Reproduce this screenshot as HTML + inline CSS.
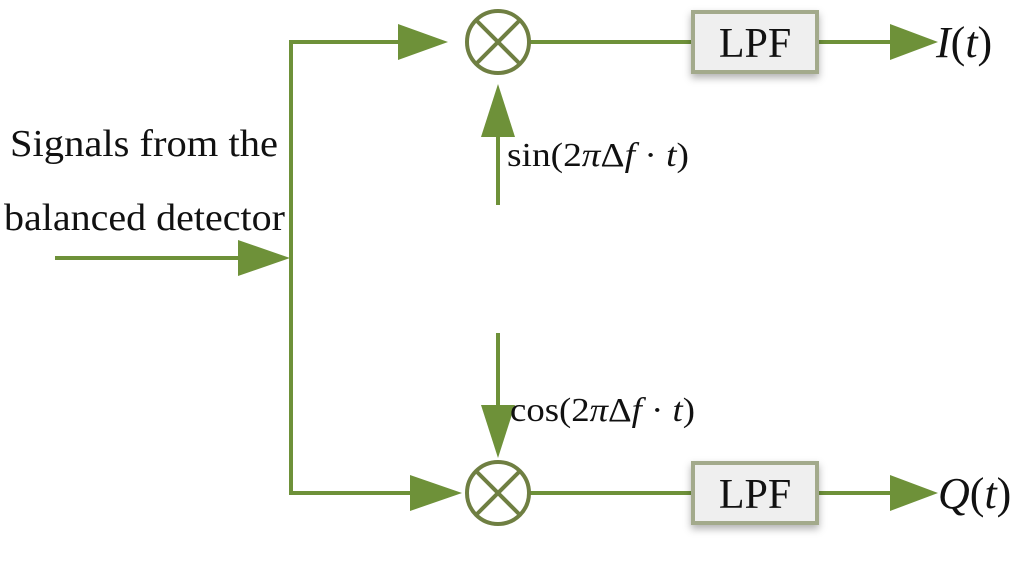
<!DOCTYPE html>
<html><head><style>body{margin:0;background:#fff}</style></head><body>
<svg width="1025" height="558" viewBox="0 0 1025 558" xmlns="http://www.w3.org/2000/svg" font-family="Liberation Serif, serif">
<defs><filter id="sh" x="-20%" y="-20%" width="140%" height="160%"><feDropShadow dx="0" dy="4" stdDeviation="4" flood-color="#000" flood-opacity="0.3"/></filter></defs>
<g stroke="#6e9139" stroke-width="4" fill="none">
<polyline points="400,42 291,42 291,493 410,493"/>
<line x1="55" y1="258" x2="240" y2="258"/>
<line x1="530" y1="42" x2="692" y2="42"/>
<line x1="818" y1="42" x2="892" y2="42"/>
<line x1="530" y1="493" x2="692" y2="493"/>
<line x1="818" y1="493" x2="892" y2="493"/>
<line x1="498" y1="205" x2="498" y2="135"/>
<line x1="498" y1="333" x2="498" y2="410"/>
</g>
<g fill="#6e9139">
<polygon points="398,24 448,42 398,60"/>
<polygon points="238,240 290,258 238,276"/>
<polygon points="410,475 462,493 410,511"/>
<polygon points="890,24 938,42 890,60"/>
<polygon points="890,475 938,493 890,511"/>
<polygon points="481,137 498,84 515,137"/>
<polygon points="481,405 498,458 515,405"/>
</g>
<g stroke="#6f7f42" stroke-width="4" fill="#fff">
<circle cx="498" cy="42" r="31"/>
<line x1="476" y1="20" x2="520" y2="64"/><line x1="520" y1="20" x2="476" y2="64"/>
<circle cx="498" cy="493" r="31"/>
<line x1="476" y1="471" x2="520" y2="515"/><line x1="520" y1="471" x2="476" y2="515"/>
</g>
<g filter="url(#sh)">
<rect x="693" y="12" width="124" height="60" fill="#efefef" stroke="#a3aa8c" stroke-width="4"/>
<rect x="693" y="463" width="124" height="60" fill="#efefef" stroke="#a3aa8c" stroke-width="4"/>
</g>
<g fill="#111">
<text x="755" y="57" text-anchor="middle" font-size="42">LPF</text>
<text x="755" y="508" text-anchor="middle" font-size="42">LPF</text>
<text x="10" y="156" font-size="38" textLength="268" lengthAdjust="spacingAndGlyphs">Signals from the</text>
<text x="4" y="230" font-size="38" textLength="281" lengthAdjust="spacingAndGlyphs">balanced detector</text>
<text x="936" y="57" font-size="44"><tspan font-style="italic">I</tspan>(<tspan font-style="italic">t</tspan>)</text>
<text x="938" y="508" font-size="44"><tspan font-style="italic">Q</tspan>(<tspan font-style="italic">t</tspan>)</text>
</g>
<g font-size="34" fill="#111">
<text x="507" y="166" textLength="182" lengthAdjust="spacingAndGlyphs">sin(2<tspan font-style="italic">π</tspan>Δ<tspan font-style="italic">f</tspan> · <tspan font-style="italic">t</tspan>)</text>
<text x="510" y="421" textLength="185" lengthAdjust="spacingAndGlyphs">cos(2<tspan font-style="italic">π</tspan>Δ<tspan font-style="italic">f</tspan> · <tspan font-style="italic">t</tspan>)</text>
</g>
</svg>
</body></html>
